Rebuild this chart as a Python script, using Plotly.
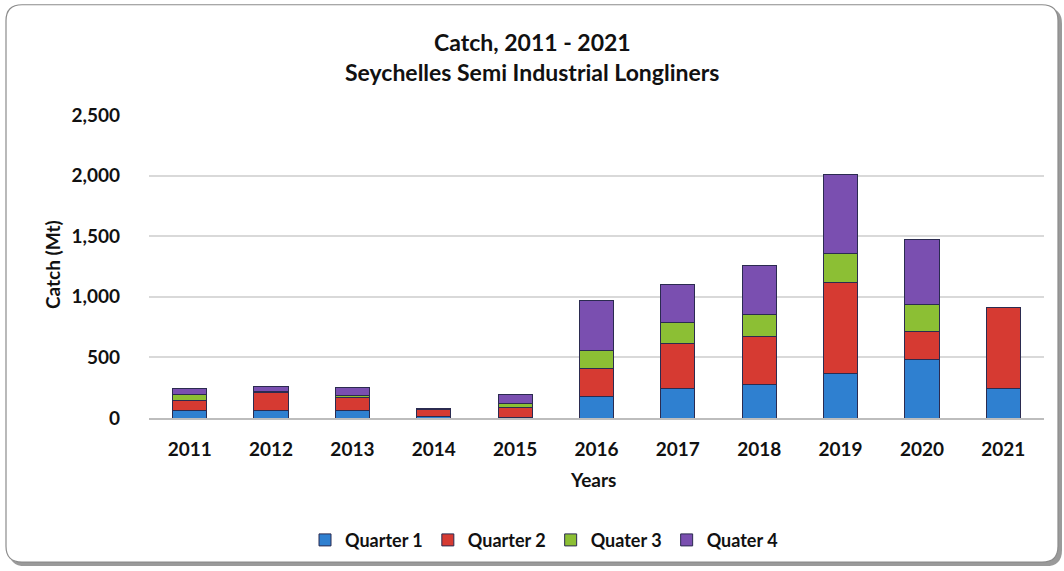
import plotly.graph_objects as go

# Annual catch by quarter (Mt)
years = ["2011", "2012", "2013", "2014", "2015", "2016", "2017", "2018", "2019", "2020", "2021"]
quarter_1 = [58, 58, 58, 12, 5, 178, 243, 276, 369, 484, 243]
quarter_2 = [90, 150, 108, 58, 79, 232, 369, 394, 751, 229, 669]
quarter_3 = [42, 10, 20, 3, 33, 147, 172, 182, 238, 227, 0]
quarter_4 = [50, 45, 68, 8, 73, 410, 320, 408, 650, 535, 0]

series_names = ["Quarter 1", "Quarter 2", "Quater 3", "Quater 4"]
series_values = [quarter_1, quarter_2, quarter_3, quarter_4]
series_colors = ["#2f80d0", "#d63a32", "#8cbf34", "#7a4fb0"]

W, H = 1064, 571
ML, MR, MT, MB = 149, 20, 115, 151
FONT = "Lato, 'Open Sans', Arial, sans-serif"

fig = go.Figure()
for name, vals, col in zip(series_names, series_values, series_colors):
    fig.add_trace(go.Bar(
        x=years, y=vals, name=f"<b>{name}</b>",
        marker=dict(color=col, line=dict(color="#2b2b50", width=1)),
    ))

def px_to_paper_x(px):
    return (px - ML) / (W - ML - MR)

def px_to_paper_y(py):
    return (H - MB - py) / (H - MT - MB)

def rounded_rect(x0, y0, x1, y1, r):
    X = px_to_paper_x
    Y = px_to_paper_y
    rx = r / (W - ML - MR)
    ry = r / (H - MT - MB)
    a, b, c, d = X(x0), X(x1), Y(y1), Y(y0)  # left, right, bottom, top
    return (f"M {a+rx},{d} L {b-rx},{d} Q {b},{d} {b},{d-ry} "
            f"L {b},{c+ry} Q {b},{c} {b-rx},{c} L {a+rx},{c} "
            f"Q {a},{c} {a},{c+ry} L {a},{d-ry} Q {a},{d} {a+rx},{d} Z")

shapes = [
    # drop shadow
    dict(type="path", xref="paper", yref="paper", layer="below",
         path=rounded_rect(9, 7, 1062, 569, 16),
         fillcolor="#9a9a9a", line=dict(width=0)),
    # chart frame
    dict(type="path", xref="paper", yref="paper", layer="below",
         path=rounded_rect(6, 4, 1058, 565, 16),
         fillcolor="white", line=dict(color="#8c8c8c", width=1.2)),
]

annotations = [
    dict(text="<b>Catch, 2011 - 2021</b>", x=px_to_paper_x(532), y=px_to_paper_y(42),
         xref="paper", yref="paper", showarrow=False, xanchor="center", yanchor="middle",
         font=dict(size=23, color="#111111", family=FONT)),
    dict(text="<b>Seychelles Semi Industrial Longliners</b>", x=px_to_paper_x(532), y=px_to_paper_y(72),
         xref="paper", yref="paper", showarrow=False, xanchor="center", yanchor="middle",
         font=dict(size=23, color="#111111", family=FONT)),
    dict(text="<b>Years</b>", x=px_to_paper_x(593), y=px_to_paper_y(482),
         xref="paper", yref="paper", showarrow=False, xanchor="center", yanchor="middle",
         font=dict(size=19, color="#111111", family=FONT)),
    dict(text="<b>Catch (Mt)</b>", x=px_to_paper_x(52), y=px_to_paper_y(266),
         xref="paper", yref="paper", showarrow=False, xanchor="center", yanchor="middle",
         textangle=-90, font=dict(size=19, color="#111111", family=FONT)),
]

fig.update_layout(
    width=W, height=H,
    margin=dict(l=ML, r=MR, t=MT, b=MB),
    paper_bgcolor="white", plot_bgcolor="rgba(0,0,0,0)",
    barmode="stack", bargap=0.58,
    font=dict(family=FONT, color="#111111"),
    shapes=shapes, annotations=annotations,
    showlegend=True,
    legend=dict(orientation="h", x=px_to_paper_x(544), xanchor="center",
                y=px_to_paper_y(543), yanchor="middle",
                font=dict(size=18, family=FONT, color="#111111"),
                traceorder="normal", itemwidth=30, bgcolor="rgba(0,0,0,0)"),
    xaxis=dict(
        tickfont=dict(size=19, family=FONT),
        showgrid=False, showline=True, linecolor="#bdbdbd", linewidth=1.5,
        ticks="", tickprefix="<b>", ticksuffix="</b>", ticklabelstandoff=13,
    ),
    yaxis=dict(
        range=[0, 2500], dtick=500, tickformat=",d",
        tickfont=dict(size=19, family=FONT),
        tickprefix="<b>", ticksuffix="</b>",
        showgrid=True, gridcolor="#d9d9d9", gridwidth=1.5,
        zeroline=False, showline=False, ticks="", ticklabelstandoff=28,
    ),
)

fig.write_html("out.html")
